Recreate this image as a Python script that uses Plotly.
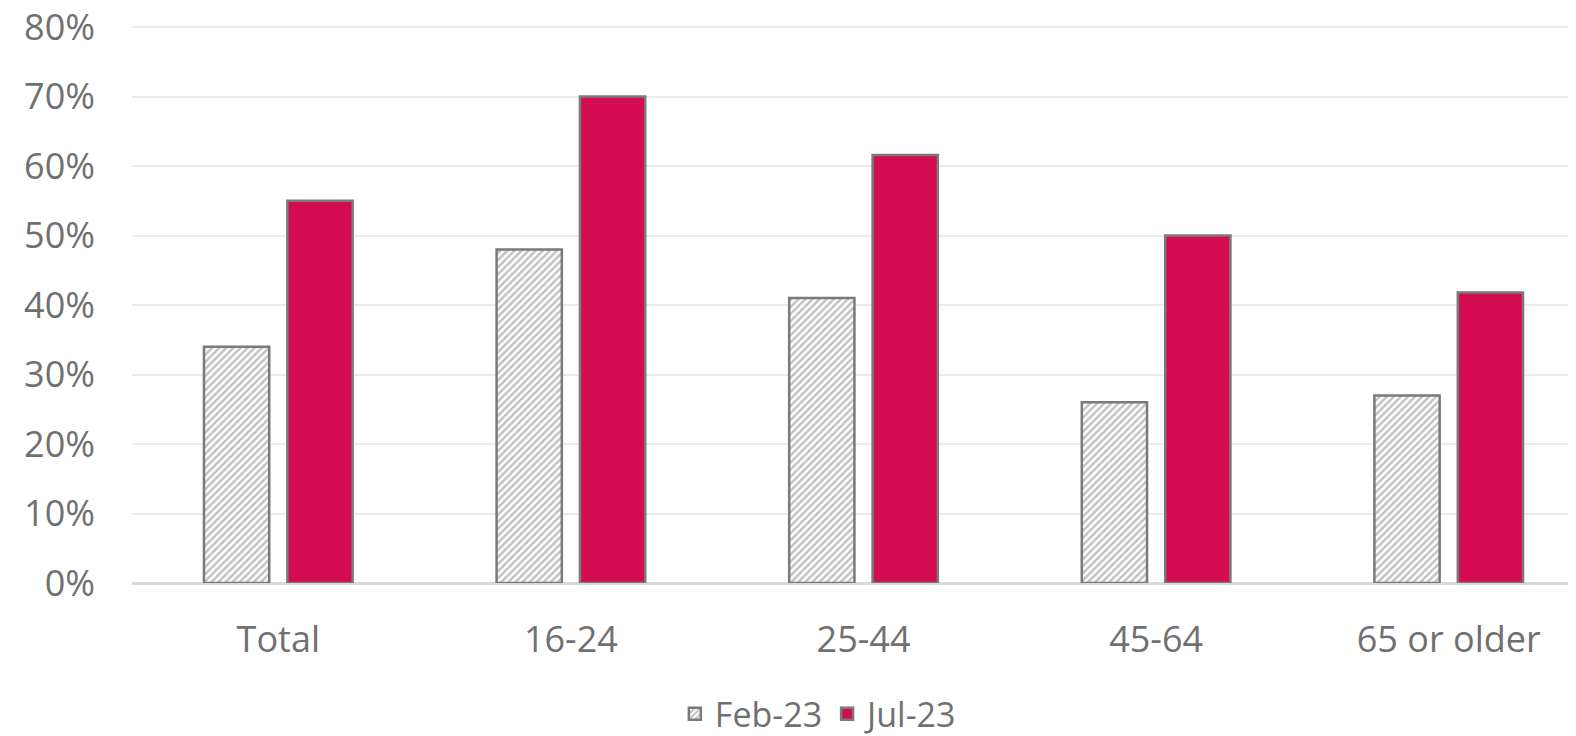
import plotly.graph_objects as go

categories = ["Total", "16-24", "25-44", "45-64", "65 or older"]
feb_values = [34, 48, 41, 26, 27]
jul_values = [55, 70, 61.6, 50, 41.8]
tick_vals = [0, 10, 20, 30, 40, 50, 60, 70, 80]
tick_text = ["0%", "10%", "20%", "30%", "40%", "50%", "60%", "70%", "80%"]

TEXT = "#707070"
FONT = "Open Sans"
FS = 36

fig = go.Figure()
fig.add_trace(go.Bar(
    name="Feb-23", x=categories, y=feb_values,
    width=0.223, offset=-0.254,
    marker=dict(
        color="white",
        line=dict(color="#7a7a7a", width=2.5),
        pattern=dict(shape="/", fgcolor="#858585", bgcolor="white", size=5, solidity=0.5),
    ),
))
fig.add_trace(go.Bar(
    name="Jul-23", x=categories, y=jul_values,
    width=0.223, offset=0.031,
    marker=dict(color="#d40d52", line=dict(color="#7a7a7a", width=2.5)),
))

fig.update_layout(
    width=1568, height=728,
    margin=dict(l=124, r=0, t=17, b=153, autoexpand=False),
    plot_bgcolor="white", paper_bgcolor="white",
    font=dict(family=FONT, size=FS, color=TEXT),
    barmode="overlay",
    showlegend=True,
    legend=dict(orientation="h", x=0.476, xanchor="center", y=-0.235, yanchor="middle",
                font=dict(size=34, color=TEXT), itemwidth=30, traceorder="normal"),
    xaxis=dict(range=[-0.5, 4.435], showgrid=False, showline=True, linecolor="#d9d9d9",
               linewidth=2, ticks="", ticklabelstandoff=24, automargin=False,
               tickfont=dict(size=FS, color=TEXT)),
    yaxis=dict(range=[0, 80.3], tickvals=tick_vals, ticktext=tick_text, showgrid=True,
               gridcolor="#ebebeb", gridwidth=2, zeroline=True, zerolinecolor="#d9d9d9",
               zerolinewidth=2, ticks="", ticklabelstandoff=36, automargin=False,
               ticklabeloverflow="allow", tickfont=dict(size=FS, color=TEXT)),
)

fig.write_html("out.html")
